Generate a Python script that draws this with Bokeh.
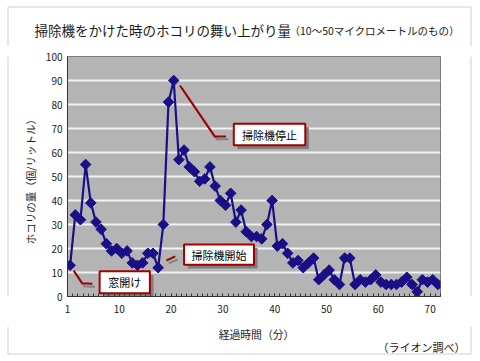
import math
from bokeh.plotting import figure
from bokeh.models import FixedTicker, Range1d
from bokeh.layouts import column, row
from bokeh.embed import file_html
from bokeh.resources import INLINE
from bokeh.core.properties import value

FONT = "Noto Sans CJK JP"

# ---- data ----
minutes = list(range(1, 73))
dust = [13, 34, 32, 55, 39, 31, 28, 22, 19, 20,
        18, 19, 14, 13, 14, 18, 18, 12, 30, 81,
        90, 57, 61, 54, 52, 48, 49, 54, 46, 40,
        38, 43, 31, 36, 27, 25, 25, 24, 30, 40,
        21, 22, 18, 14, 15, 12, 14, 16, 7, 9,
        11, 7, 5, 16, 16, 5, 7, 6, 7, 9,
        6, 5, 5, 5, 6, 8, 5, 2, 7, 6,
        7, 5]
xtick_labels = ["1", "10", "20", "30", "40", "50", "60", "70"]
ytick_values = [0, 10, 20, 30, 40, 50, 60, 70, 80, 90, 100]

title_main = "掃除機をかけた時のホコリの舞い上がり量"
title_sub = "（10〜50マイクロメートルのもの）"
x_title = "経過時間（分）"
y_title = "ホコリの量（個/リットル）"
source_note = "（ライオン調べ）"

callout_texts = ["窓開け", "掃除機開始", "掃除機停止"]
callout_boxes = [(6.7, 16.4, 1.4, 10.5), (23.0, 36.5, 13.2, 21.7), (32.6, 46.4, 63.0, 72.0)]
callout_leaders_x = [[1.7, 3.3, 5.3], [19.6, 21.3], [22.2, 28.9, 31.1]]
callout_leaders_y = [[10.8, 5.5, 5.3], [15.0, 16.7], [87.9, 66.7, 66.7]]

BORDER = "#cfcfcf"
TXT = "#1a1a1a"


def blank(w, h):
    f = figure(width=w, height=h, x_range=Range1d(0, w), y_range=Range1d(0, h),
               x_axis_type=None, y_axis_type=None, output_backend="svg",
               toolbar_location=None, min_border=0, outline_line_color=None,
               background_fill_color="white", border_fill_color="white")
    f.title.visible = False
    return f


# ---- header with title ----
header = blank(476, 46)
header.line([7.5, 7.5, 470.5, 470.5], [0, 39.5, 39.5, 0], line_color=BORDER, line_width=1)
header.text(x=[34], y=[16.5], text=[title_main], text_font=value(FONT), text_font_size="13.5px",
            text_baseline="alphabetic", text_color=TXT)
header.text(x=[289], y=[16.5], text=[title_sub], text_font=value(FONT), text_font_size="10.5px",
            text_baseline="alphabetic", text_color=TXT)

# ---- left strip with y title ----
left = blank(40, 280)
left.line([7.5, 7.5], [0, 280], line_color=BORDER, line_width=1)
left.text(x=[30], y=[137], text=[y_title], angle=math.pi / 2, text_font=value(FONT),
          text_font_size="10.5px", text_align="center", text_baseline="middle", text_color=TXT)

# ---- right strip ----
right = blank(10, 280)
right.line([4.5, 4.5], [0, 280], line_color=BORDER, line_width=1)

# ---- footer ----
footer = blank(476, 32)
footer.line([7.5, 7.5, 470.5, 470.5], [32, 4.5, 4.5, 32], line_color=BORDER, line_width=1)
footer.text(x=[256], y=[25], text=[x_title], text_font=value(FONT), text_font_size="10.8px",
            text_align="center", text_baseline="middle", text_color=TXT)
footer.text(x=[465], y=[12], text=[source_note], text_font=value(FONT), text_font_size="11px",
            text_align="right", text_baseline="middle", text_color=TXT)

# ---- main chart ----
p = figure(width=426, height=280, x_range=(0.5, 72.5), y_range=(0, 100),
           output_backend="svg", toolbar_location=None,
           min_border_left=27, min_border_right=26, min_border_top=10, min_border_bottom=30,
           background_fill_color="#b4b4b4", border_fill_color="white")
p.title.visible = False
p.outline_line_color = "#7a7a7a"
p.outline_line_width = 1

p.xgrid.visible = False
p.ygrid.grid_line_color = "#f2f2f2"
p.ygrid.grid_line_width = 2
p.yaxis.ticker = FixedTicker(ticks=ytick_values)
p.ygrid.ticker = FixedTicker(ticks=ytick_values)

xt = [0.5 + 10 * i for i in range(len(xtick_labels))]
p.xaxis.ticker = FixedTicker(ticks=xt, minor_ticks=[m - 0.5 for m in minutes] + [72.5])
p.xaxis.major_label_overrides = {t: s for t, s in zip(xt, xtick_labels)}
for ax in (p.xaxis, p.yaxis):
    ax.axis_line_color = "#333333"
    ax.major_label_text_font = FONT
    ax.major_label_text_font_size = "10px"
    ax.major_label_text_color = "#222222"
p.xaxis.major_tick_in = 3
p.xaxis.major_tick_out = 0
p.xaxis.minor_tick_in = 3
p.xaxis.minor_tick_out = 0
p.xaxis.major_tick_line_color = "#333333"
p.xaxis.minor_tick_line_color = "#333333"
p.xaxis.major_label_standoff = 8
p.yaxis.major_tick_in = 0
p.yaxis.major_tick_out = 0
p.yaxis.minor_tick_line_color = None
p.yaxis.major_label_standoff = 5

p.line(minutes, dust, line_color="#1a0f86", line_width=2.2)
p.scatter(minutes, dust, marker="square", angle=math.pi / 4, size=7.5,
          fill_color="#1a0f86", line_color="#1a0f86")

for (l, r, b, t), lx, ly, txt in zip(callout_boxes, callout_leaders_x, callout_leaders_y, callout_texts):
    p.line([v + 0.45 for v in lx], [v - 1.2 for v in ly], line_color="#808080", line_width=2)
    p.line(lx, ly, line_color="#a00000", line_width=2)
    p.quad(left=[l + 0.7], right=[r + 0.7], bottom=[b - 1.5], top=[t - 1.5],
           fill_color="#7f7f7f", line_color=None)
    p.quad(left=[l], right=[r], bottom=[b], top=[t],
           fill_color="white", line_color="#a00000", line_width=2)
    p.text(x=[(l + r) / 2], y=[(b + t) / 2], text=[txt], text_font=value(FONT),
           text_font_size="11px", text_align="center", text_baseline="middle",
           text_color="black")

layout = column(header, row(left, p, right), footer)
open("out.html", "w").write(file_html(layout, INLINE))
